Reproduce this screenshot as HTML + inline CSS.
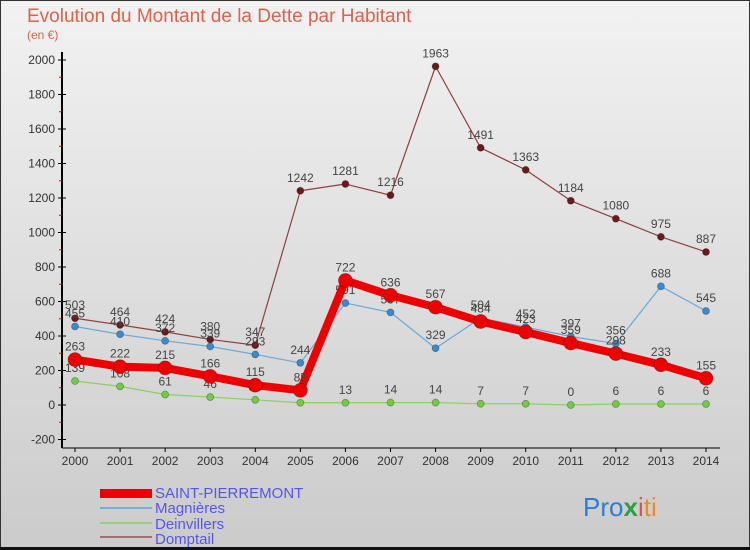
<!DOCTYPE html>
<html><head><meta charset="utf-8"><style>
body{margin:0;padding:0}
svg{display:block;font-family:"Liberation Sans",sans-serif}
</style></head><body>
<svg id="chart" width="750" height="550" xmlns="http://www.w3.org/2000/svg">
<defs><linearGradient id="bg" x1="0" y1="0" x2="0" y2="1"><stop offset="0" stop-color="#f2f2f2"/><stop offset="1" stop-color="#cbcbcb"/></linearGradient></defs>
<rect x="0.5" y="0.5" width="749" height="549" fill="url(#bg)" stroke="#333"/>
<text x="27" y="22" font-size="19" style="fill:#e0604a">Evolution du Montant de la Dette par Habitant</text>
<text x="27" y="39" font-size="12" fill="#e0604a">(en €)</text>
<g id="axes"></g><g id="series"></g>
<g>
<rect x="100" y="489" width="52" height="9" fill="#ee0000"/>
<text x="155" y="498" font-size="15" fill="#5555ee">SAINT-PIERREMONT</text>
<rect x="100" y="507" width="52" height="2" fill="#7aaed0"/>
<text x="155" y="513" font-size="15" fill="#5555ee">Magnières</text>
<rect x="100" y="522" width="52" height="2" fill="#99d080"/>
<text x="155" y="529" font-size="15" fill="#5555ee">Deinvillers</text>
<rect x="100" y="536" width="52" height="2" fill="#a07070"/>
<text x="155" y="544" font-size="15" fill="#5555ee">Domptail</text>
</g>
<text x="583" y="516" font-size="26"><tspan fill="#2a7fd0">Pro</tspan><tspan fill="#2aa040" font-weight="bold">x</tspan><tspan fill="#e05050">i</tspan><tspan fill="#f08a20">ti</tspan></text>
<rect x="0" y="547" width="750" height="3" fill="#111"/>
</svg>
<script>
const years=[2000,2001,2002,2003,2004,2005,2006,2007,2008,2009,2010,2011,2012,2013,2014];
const saintPierremont=[263,222,215,166,115,85,722,636,567,484,423,359,298,233,155];
const magnieres=[455,410,372,339,293,244,591,537,329,504,452,397,356,688,545];
const deinvillers=[139,108,61,46,30,13,13,14,14,7,7,0,6,6,6];
const domptail=[503,464,424,380,347,1242,1281,1216,1963,1491,1363,1184,1080,975,887];
const yTicks=[-200,0,200,400,600,800,1000,1200,1400,1600,1800,2000];
const NS="http://www.w3.org/2000/svg";
const x=i=>75+i*(706-75)/14;
const y=v=>405-v*0.1725;
function mk(tag,attrs,parent){const e=document.createElementNS(NS,tag);for(const k in attrs)e.setAttribute(k,attrs[k]);parent.appendChild(e);return e;}
const ax=document.getElementById('axes');
const yl=mk('line',{x1:62,y1:52,x2:62,y2:448,stroke:'#000','stroke-width':2},ax);


const xl=mk('line',{x1:62,y1:448,x2:720,y2:448,stroke:'#000','stroke-width':1},ax);


yTicks.forEach((t,k)=>{
 const tk=mk('line',{x1:58,y1:y(t),x2:66,y2:y(t),stroke:'#000'},ax);
 
 
 if(k<yTicks.length-1){
  const m=mk('line',{x1:59,y1:y(t+100),x2:62,y2:y(t+100),stroke:'#e00'},ax);
  
  
 }
 const lb=mk('text',{x:55,y:y(t)+4,'font-size':12,'text-anchor':'end',fill:'#333'},ax);
 lb.textContent=t;
 
 
});
years.forEach((yr,i)=>{
 const tk=mk('line',{x1:x(i),y1:448,x2:x(i),y2:452,stroke:'#000'},ax);
 
 
 const lb=mk('text',{x:x(i),y:465,'font-size':12,'text-anchor':'middle',fill:'#333'},ax);
 lb.textContent=yr;
 
 
});
const sg=document.getElementById('series');
function series(name,vals,color,dot,w,r){
 const g=mk('g',{},sg);
 
 
 const pl=mk('polyline',{points:vals.map((v,i)=>x(i)+','+y(v)).join(' '),fill:'none',stroke:color,'stroke-width':w,'stroke-linejoin':'round'},g);
 
 
 vals.forEach((v,i)=>{
  const c=mk('circle',{cx:x(i),cy:y(v),r:r,fill:dot,stroke:'rgba(0,0,0,0.3)','stroke-width':0.8},g);
  
  
  const t=mk('text',{x:x(i),y:y(v)-9,'font-size':12,'text-anchor':'middle',fill:'#444'},g);
  t.textContent=v;
  
  
 });
}
series('domptail',domptail,'#8a4040','#6a1a1a',1.2,3.5);
series('magnieres',magnieres,'#6aaad8','#3a8ad0',1.2,3.5);
series('deinvillers',deinvillers,'#88d060','#70cc40',1.2,3.5);
series('saint-pierremont',saintPierremont,'#ee0000','#ee0000',8,7);
</script>
</body></html>
